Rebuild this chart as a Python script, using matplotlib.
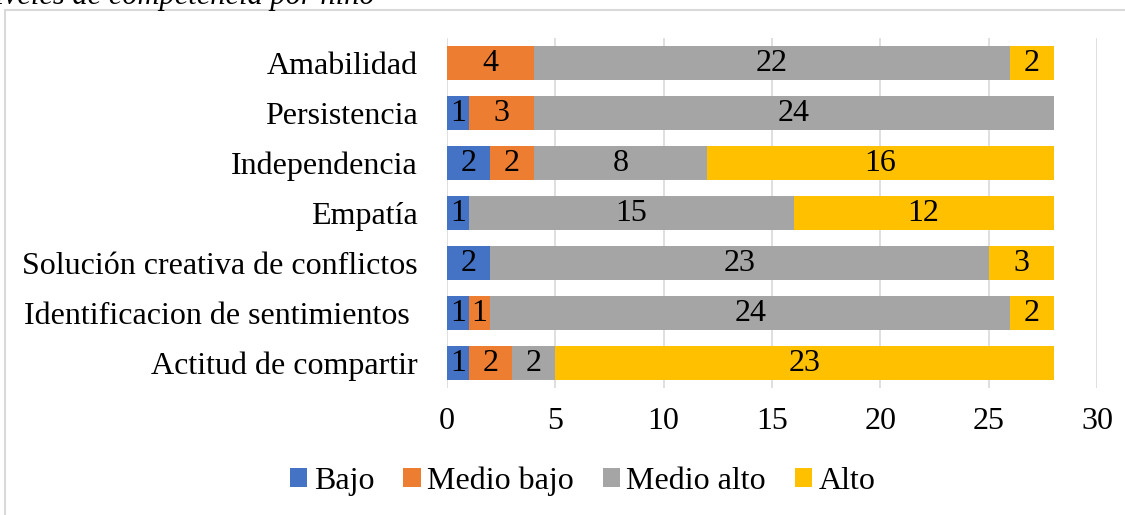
import numpy as np
import matplotlib.pyplot as plt
from matplotlib.patches import Rectangle

plt.rcParams["font.family"] = ["Liberation Serif", "DejaVu Serif"]

categories = [
    "Amabilidad",
    "Persistencia",
    "Independencia",
    "Empatía",
    "Solución creativa de conflictos",
    "Identificacion de sentimientos ",
    "Actitud de compartir",
]
series_names = ["Bajo", "Medio bajo", "Medio alto", "Alto"]
bajo = [0, 1, 2, 1, 2, 1, 1]
medio_bajo = [4, 3, 2, 0, 0, 1, 2]
medio_alto = [22, 24, 8, 15, 23, 24, 2]
alto = [2, 0, 16, 12, 3, 2, 23]
colors = ["#4472C4", "#ED7D31", "#A5A5A5", "#FFC000"]

fig = plt.figure(figsize=(11.25, 5.15), dpi=100)
ax = fig.add_axes([0.3973, 0.2466, 0.5778, 0.6794])

# chart frame
fig.patches.append(Rectangle((5 / 1125, -0.1), 1.2, 1 - 10 / 515 + 0.1,
                             transform=fig.transFigure, fill=False,
                             edgecolor="#D9D9D9", linewidth=1.5))

# cropped caption at the very top
fig.text(-0.022, 1 - 4 / 515, "Niveles de competencia por niño", fontsize=22,
         style="italic", ha="left", va="baseline")

y = np.arange(len(categories))
left = np.zeros(len(categories))
for name, vals, c in zip(series_names, [bajo, medio_bajo, medio_alto, alto], colors):
    vals = np.array(vals, dtype=float)
    bars = ax.barh(y, vals, left=left, height=0.67, color=c, label=name, zorder=3)
    labels = [str(int(v)) if v > 0 else "" for v in vals]
    ax.bar_label(bars, labels=labels, label_type="center", fontsize=23, zorder=4)
    left += vals

ax.set_yticks(y)
ax.set_yticklabels(categories, fontsize=23)
ax.invert_yaxis()
ax.set_ylim(6.5, -0.5)
ax.set_xlim(0, 30)
ax.set_xticks(range(0, 31, 5))
ax.tick_params(axis="x", labelsize=23, length=0, pad=14)
ax.tick_params(axis="y", length=0, pad=21)
ax.grid(axis="x", color="#D9D9D9", linewidth=1.2, zorder=0)
for s in ax.spines.values():
    s.set_visible(False)

fig.legend(loc="center", bbox_to_anchor=(0.518, 1 - 481 / 515), ncol=4,
           frameon=False, fontsize=23, handlelength=0.55, handleheight=0.55,
           handletextpad=0.2, columnspacing=0.9)

fig.savefig("out.png", dpi=100)
